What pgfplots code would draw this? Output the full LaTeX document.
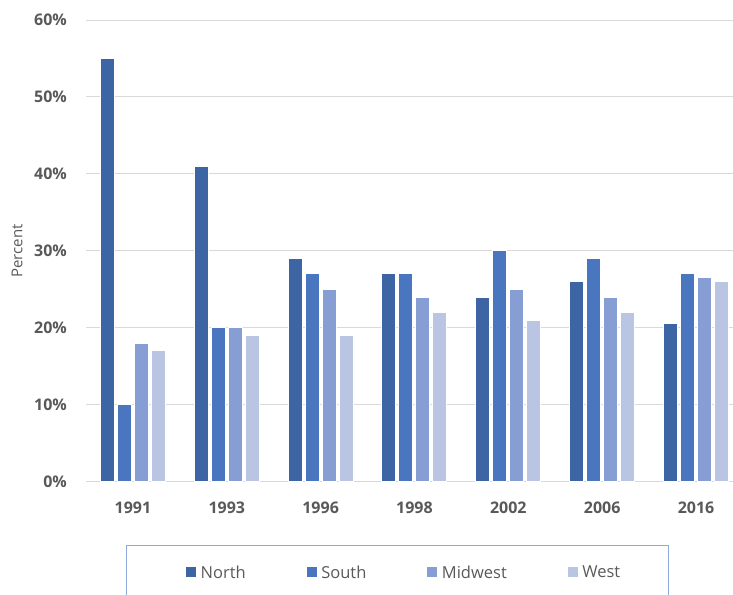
\documentclass[border=0pt]{standalone}
\usepackage{fontspec}
\setmainfont{Open Sans}
\usepackage{pgfplots}
\pgfplotsset{compat=1.18}

\definecolor{cNorth}{HTML}{3D64A3}
\definecolor{cSouth}{HTML}{4A75BF}
\definecolor{cMidwest}{HTML}{879ED4}
\definecolor{cWest}{HTML}{BAC4E3}
\definecolor{txtgray}{HTML}{595959}
\definecolor{gridgray}{HTML}{D9D9D9}
\definecolor{framblue}{HTML}{8EAADB}

\begin{document}
\begin{tikzpicture}[x=1pt,y=1pt]
\path[use as bounding box] (0,0) rectangle (733,594);
\clip (0,0) rectangle (733,594);
\begin{axis}[
  at={(86pt,112.3pt)}, anchor=south west,
  scale only axis, width=647pt, height=461.7pt,
  xmin=-0.5, xmax=6.394, ymin=0, ymax=60,
  xtick={0,...,6},
  xticklabels={1991,1993,1996,1998,2002,2006,2016},
  ytick={0,10,...,60},
  yticklabel={\pgfmathprintnumber{\tick}\%},
  /pgf/number format/assume math mode=true,
  major tick length=0pt,
  axis line style={draw=none},
  ymajorgrids, grid style={draw=gridgray, line width=1pt},
  ticklabel style={font=\fontsize{16}{19}\selectfont\bfseries, text=txtgray},
  yticklabel style={anchor=east, inner sep=0pt, xshift=-19pt},
  xticklabel style={anchor=base, inner sep=0pt, yshift=-32pt},
  ylabel={Percent},
  ylabel style={at={(axis description cs:-0.1066,0.5)}, anchor=center,
    font=\fontsize{15}{18}\selectfont, text=txtgray},
  ybar, bar width=0.149,
  every axis plot/.append style={draw=white, line width=1pt},
  legend columns=4,
  legend image code/.code={\fill[#1] (0pt,-4.5pt) rectangle (11pt,6.5pt);},
  legend style={at={(axis description cs:0.153,-0.1967)}, anchor=west,
    draw=none, fill=none, inner sep=0pt,
    font=\fontsize{16.5}{20}\selectfont, text=txtgray,
    /tikz/every odd column/.append style={column sep=1.5pt},
    /tikz/every even column/.append style={column sep=58pt}},
]
\addplot[fill=cNorth, bar shift=-0.2717] coordinates
  {(0,55) (1,41) (2,29) (3,27) (4,24) (5,26) (6,20.6)};
\addplot[fill=cSouth, bar shift=-0.0906] coordinates
  {(0,10) (1,20) (2,27) (3,27) (4,30) (5,29) (6,27)};
\addplot[fill=cMidwest, bar shift=0.0906] coordinates
  {(0,18) (1,20) (2,25) (3,24) (4,25) (5,24) (6,26.5)};
\addplot[fill=cWest, bar shift=0.2717] coordinates
  {(0,17) (1,19) (2,19) (3,22) (4,21) (5,22) (6,26)};
\legend{North,South,Midwest,West}
\end{axis}
\draw[framblue, line width=1pt] (126,-5) -- (126,48) -- (668,48) -- (668,-5);
\end{tikzpicture}
\end{document}
